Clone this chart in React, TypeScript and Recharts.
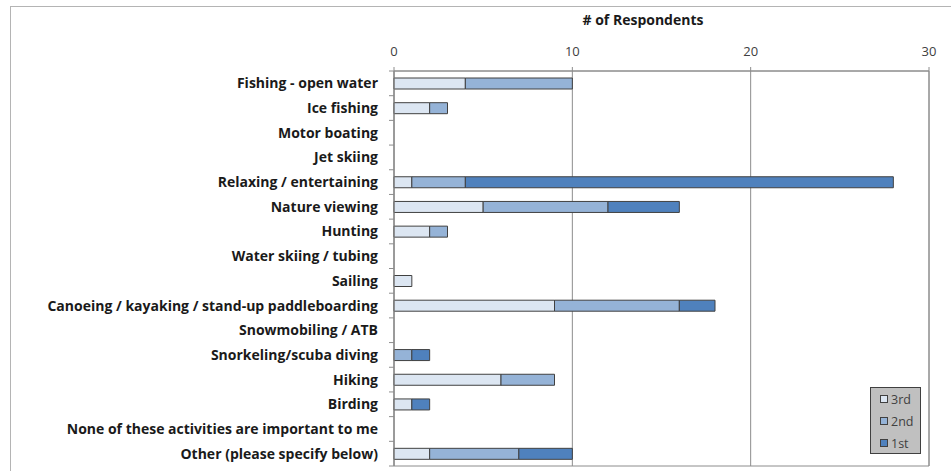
import React from "react"
import {
  BarChart,
  Bar,
  XAxis,
  YAxis,
  CartesianGrid,
  Legend,
  ReferenceArea,
} from "recharts"

// survey categories, top to bottom
const categories = [
  "Fishing - open water",
  "Ice fishing",
  "Motor boating",
  "Jet skiing",
  "Relaxing / entertaining",
  "Nature viewing",
  "Hunting",
  "Water skiing / tubing",
  "Sailing",
  "Canoeing / kayaking / stand-up paddleboarding",
  "Snowmobiling / ATB",
  "Snorkeling/scuba diving",
  "Hiking",
  "Birding",
  "None of these activities are important to me",
  "Other (please specify below)",
]

// respondents per rank
const third = [4, 2, 0, 0, 1, 5, 2, 0, 1, 9, 0, 0, 6, 1, 0, 2]
const second = [6, 1, 0, 0, 3, 7, 1, 0, 0, 7, 0, 1, 3, 0, 0, 5]
const first = [0, 0, 0, 0, 24, 4, 0, 0, 0, 2, 0, 1, 0, 1, 0, 3]

const xTicks = [0, 10, 20, 30]
const legendOrder = ["3rd", "2nd", "1st"]

const data = categories.map((name, i) => ({
  name,
  third: third[i],
  second: second[i],
  first: first[i],
}))

const FONT = "'Open Sans', Lato, sans-serif"
const AXIS = "#8c8c8c"
const EDGE = "#404040"

const PLOT_LEFT = 394
const PLOT_TOP = 71
const PLOT_BOTTOM = 466
const BAND = (PLOT_BOTTOM - PLOT_TOP) / categories.length

function CategoryTick(props: any) {
  const { y, payload, index } = props
  return (
    <g>
      <text
        x={PLOT_LEFT - 16}
        y={y}
        dy={5}
        textAnchor="end"
        fontFamily={FONT}
        fontWeight={700}
        fontSize={14}
        fill="#1a1a1a"
      >
        {payload.value}
      </text>
      <line x1={PLOT_LEFT - 5} x2={PLOT_LEFT} y1={y - BAND / 2} y2={y - BAND / 2} stroke={AXIS} />
      {index === categories.length - 1 && (
        <line x1={PLOT_LEFT - 5} x2={PLOT_LEFT} y1={y + BAND / 2} y2={y + BAND / 2} stroke={AXIS} />
      )}
    </g>
  )
}

function RankLegend(props: any) {
  const items = legendOrder
    .map((n) => (props.payload || []).find((p: any) => p.value === n))
    .filter(Boolean)
  return (
    <div
      style={{
        width: 49,
        height: 65,
        background: "#c0c0c0",
        border: `1px solid ${EDGE}`,
        boxSizing: "content-box",
        paddingTop: 0,
      }}
    >
      {items.map((p: any) => (
        <div
          key={p.value}
          style={{
            display: "flex",
            alignItems: "center",
            height: 22,
            paddingLeft: 9,
            fontFamily: FONT,
            fontSize: 12.5,
            color: "#404040",
          }}
        >
          <span
            style={{
              display: "inline-block",
              width: 6,
              height: 6,
              background: p.color,
              border: `1px solid ${EDGE}`,
              marginRight: 3,
            }}
          />
          {p.value}
        </div>
      ))}
    </div>
  )
}

export default function App() {
  return (
    <div style={{ position: "absolute", left: 0, top: 0, width: 951, height: 471, background: "#fff", overflow: "hidden" }}>
      <div
        style={{
          position: "absolute",
          left: 10,
          top: 6,
          width: 960,
          height: 480,
          border: "1px solid #b4b4b4",
        }}
      />
      <div
        style={{
          position: "absolute",
          left: 563,
          top: 10,
          width: 160,
          textAlign: "center",
          fontFamily: FONT,
          fontWeight: 700,
          fontSize: 14,
          color: "#1a1a1a",
        }}
      >
        # of Respondents
      </div>
      <div style={{ position: "absolute", left: 0, top: 0 }}>
        <BarChart
          width={951}
          height={471}
          data={data}
          layout="vertical"
          barSize={11}
          margin={{ top: 30, right: 22, bottom: 471 - PLOT_BOTTOM, left: 0 }}
        >
          <CartesianGrid horizontal={false} stroke={AXIS} verticalValues={xTicks} />
          <ReferenceArea x1={0} x2={30} fill="none" stroke={AXIS} ifOverflow="visible" />
          <XAxis
            type="number"
            orientation="top"
            domain={[0, 30]}
            ticks={xTicks}
            height={PLOT_TOP - 30}
            stroke={AXIS}
            tickSize={4}
            tickMargin={11}
            tick={{ fontFamily: FONT, fontSize: 13, fill: "#404040" }}
          />
          <YAxis
            type="category"
            dataKey="name"
            width={PLOT_LEFT}
            interval={0}
            tickLine={false}
            stroke={AXIS}
            tick={<CategoryTick />}
          />
          <Legend
            layout="vertical"
            align="center"
            verticalAlign="middle"
            content={<RankLegend />}
            wrapperStyle={{ left: 870, top: 387, width: 51, height: 67 }}
          />
          <Bar dataKey="third" name="3rd" stackId="r" fill="#dce6f2" stroke={EDGE} strokeWidth={1} isAnimationActive={false} />
          <Bar dataKey="second" name="2nd" stackId="r" fill="#95b3d7" stroke={EDGE} strokeWidth={1} isAnimationActive={false} />
          <Bar dataKey="first" name="1st" stackId="r" fill="#4f81bd" stroke={EDGE} strokeWidth={1} isAnimationActive={false} />
        </BarChart>
      </div>
    </div>
  )
}
